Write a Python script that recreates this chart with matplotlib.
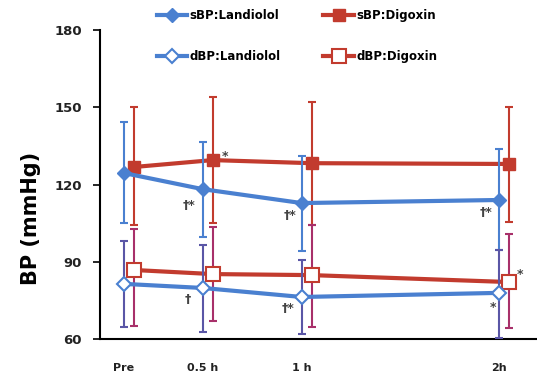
import matplotlib
matplotlib.use("Agg")
from matplotlib import pyplot as plt
from matplotlib.lines import Line2D

# time points (hours, Pre plotted just before 0.5 h)
times = [0.1, 0.5, 1.0, 2.0]
tick_labels = ['Pre', '0.5 h', '1 h', '2h']

sbp_lan = [124.5, 118.2, 112.8, 114.0]
sbp_lan_lo = [105.0, 99.6, 94.0, 94.5]
sbp_lan_hi = [144.3, 136.5, 131.0, 133.8]

sbp_dig = [126.8, 129.5, 128.3, 128.0]
sbp_dig_lo = [104.3, 105.0, 104.3, 105.4]
sbp_dig_hi = [150.0, 154.0, 152.0, 150.0]

dbp_lan = [81.4, 79.8, 76.3, 77.9]
dbp_lan_lo = [64.7, 62.7, 62.0, 60.4]
dbp_lan_hi = [98.0, 96.5, 90.7, 94.5]

dbp_dig = [86.8, 85.2, 84.8, 82.1]
dbp_dig_lo = [65.0, 67.0, 64.7, 64.3]
dbp_dig_hi = [102.7, 103.5, 104.3, 100.8]

blue = '#4a80d0'
red = '#c23b2e'
purple = '#5a56a6'
crimson = '#a8306a'

fig = plt.figure(figsize=(5.37, 3.77), dpi=100)
ax = fig.add_axes([0.186, 0.101, 0.814, 0.819])

off = 0.05
xr = [t + off for t in times]

def err(v, lo, hi):
	return [[a - b for a, b in zip(v, lo)], [b - a for a, b in zip(v, hi)]]

ax.errorbar(times, sbp_lan, yerr=err(sbp_lan, sbp_lan_lo, sbp_lan_hi), color=blue, ecolor=blue,
	lw=3, elinewidth=1.5, capsize=3, capthick=1.5, marker='D', ms=7, mfc=blue, mec=blue, zorder=4)
ax.errorbar(xr, sbp_dig, yerr=err(sbp_dig, sbp_dig_lo, sbp_dig_hi), color=red, ecolor=red,
	lw=3, elinewidth=1.5, capsize=3, capthick=1.5, marker='s', ms=9, mfc=red, mec=red, zorder=3)
ax.errorbar(times, dbp_lan, yerr=err(dbp_lan, dbp_lan_lo, dbp_lan_hi), color=blue, ecolor=purple,
	lw=3, elinewidth=1.5, capsize=3, capthick=1.5, marker='D', ms=7, mfc='white', mec=blue, mew=1.5, zorder=4)
ax.errorbar(xr, dbp_dig, yerr=err(dbp_dig, dbp_dig_lo, dbp_dig_hi), color=red, ecolor=crimson,
	lw=3, elinewidth=1.5, capsize=3, capthick=1.5, marker='s', ms=10, mfc='white', mec=red, mew=1.5, zorder=3)

# significance marks
marks = [
	(times[1], sbp_lan[1], '†*', -14, -16),
	(times[2], sbp_lan[2], '†*', -12, -12),
	(times[3], sbp_lan[3], '†*', -13, -13),
	(xr[1], sbp_dig[1], '*', 12, 4),
	(times[1], dbp_lan[1], '†', -15, -12),
	(times[2], dbp_lan[2], '†*', -14, -12),
	(times[3], dbp_lan[3], '*', -6, -15),
	(xr[3], dbp_dig[3], '*', 11, 8),
]
for x, y, s, dx, dy in marks:
	ax.annotate(s, (x, y), xytext=(dx, dy), textcoords='offset pixels', ha='center', va='center',
		fontsize=9, color='#444444', fontweight='bold')

ax.set_xlim(-0.02, 2.19)
ax.set_ylim(60, 180)
ax.set_yticks([60, 90, 120, 150, 180])
ax.set_xticks(times)
ax.set_xticklabels(tick_labels)
ax.tick_params(axis='x', length=0, pad=17)
ax.tick_params(axis='y', length=5, width=1.2, pad=8)
for lab in ax.get_xticklabels():
	lab.set_fontsize(8)
	lab.set_fontweight('bold')
	lab.set_color('#222222')
for lab in ax.get_yticklabels():
	lab.set_fontsize(9.5)
	lab.set_fontweight('bold')
	lab.set_color('#222222')
ax.spines['top'].set_visible(False)
ax.spines['right'].set_visible(False)
ax.spines['left'].set_linewidth(1.5)
ax.spines['bottom'].set_linewidth(1.5)
ax.set_ylabel('BP (mmHg)', fontsize=15, fontweight='bold')
ax.yaxis.set_label_coords(-0.135, 0.39)

handles = [
	Line2D([], [], color=blue, lw=3, marker='D', ms=7, mfc=blue, mec=blue),
	Line2D([], [], color=blue, lw=3, marker='D', ms=7, mfc='white', mec=blue, mew=1.5),
	Line2D([], [], color=red, lw=3, marker='s', ms=9, mfc=red, mec=red),
	Line2D([], [], color=red, lw=3, marker='s', ms=10, mfc='white', mec=red, mew=1.5),
]
fig.legend(handles, ['sBP:Landiolol', 'dBP:Landiolol', 'sBP:Digoxin', 'dBP:Digoxin'],
	ncol=2, loc='upper left', bbox_to_anchor=(0.272, 1.005), frameon=False,
	prop={'weight': 'bold', 'size': 8.5}, labelspacing=2.4, columnspacing=3.6,
	handlelength=2.6, handletextpad=0.2)

plt.savefig('out.png', dpi=100)
